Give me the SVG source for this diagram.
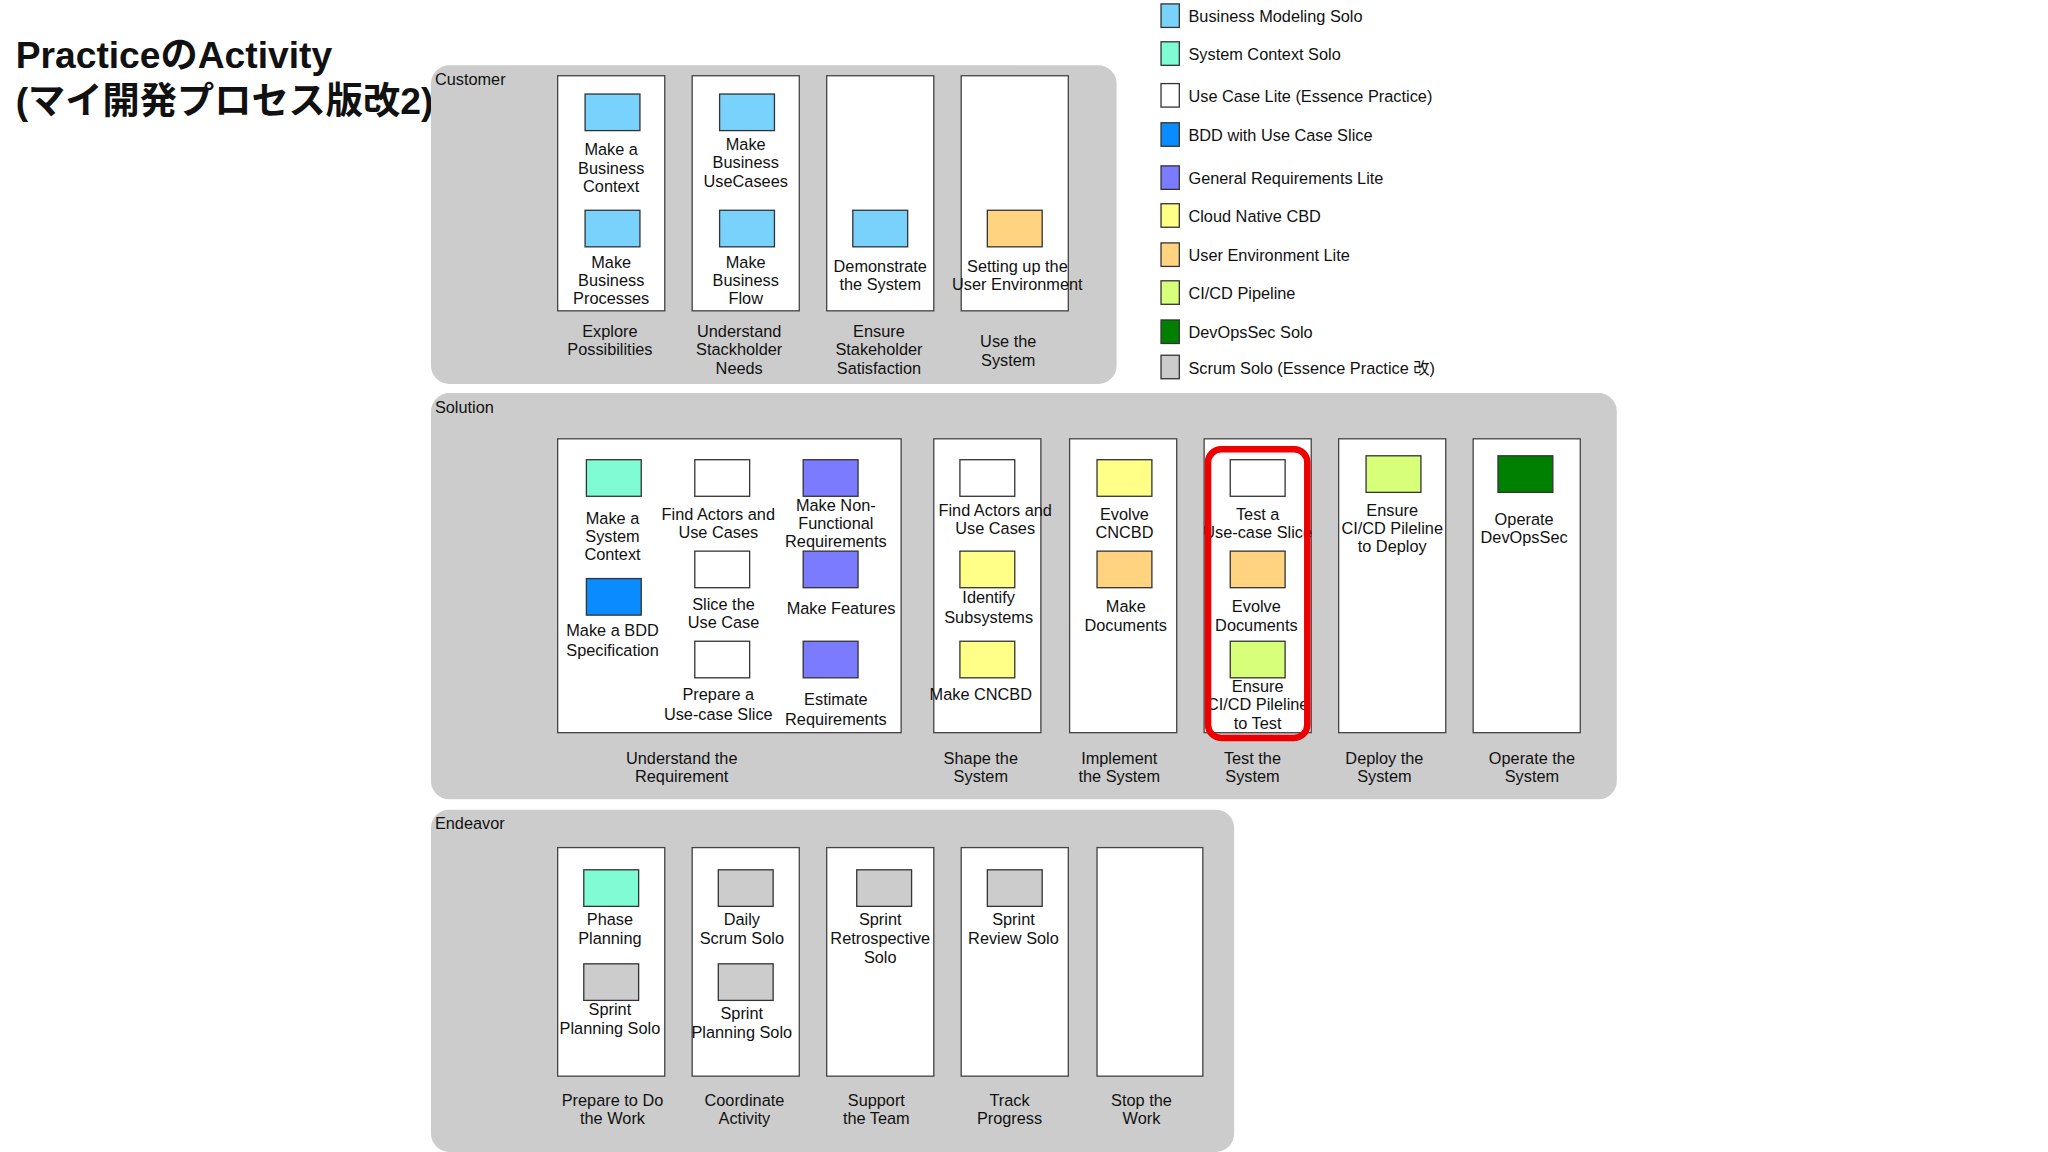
<svg xmlns="http://www.w3.org/2000/svg" width="2048" height="1152" viewBox="0 0 2048 1152">
<style>
text{font-family:"Liberation Sans",Arial,"Noto Sans CJK JP",sans-serif;font-size:12.5px;fill:#111}
.c{text-anchor:middle}
.panel{fill:#cccccc}
.col{fill:#fff;stroke:#444;stroke-width:1}
.sq{stroke:#333;stroke-width:1}
.t{font-size:28.5px;font-weight:bold}
</style>
<rect width="2048" height="1152" fill="#fff"/>
<g transform="scale(1.306)">
<g id="title"><text class="t" x="12" y="52">PracticeのActivity</text><text class="t" x="12" y="87">(マイ開発プロセス版改2)</text></g>

<g id="customer">
<rect class="panel" x="330" y="50" width="525" height="244" rx="14"/>
<text x="333" y="65">Customer</text>
<rect class="col" x="427" y="58" width="82" height="180"/>
<rect class="col" x="530" y="58" width="82" height="180"/>
<rect class="col" x="633" y="58" width="82" height="180"/>
<rect class="col" x="736" y="58" width="82" height="180"/>
<rect class="sq" x="448" y="72" width="42" height="28" fill="#79d2fb"/>
<rect class="sq" x="448" y="161" width="42" height="28" fill="#79d2fb"/>
<rect class="sq" x="551" y="72" width="42" height="28" fill="#79d2fb"/>
<rect class="sq" x="551" y="161" width="42" height="28" fill="#79d2fb"/>
<rect class="sq" x="653" y="161" width="42" height="28" fill="#79d2fb"/>
<rect class="sq" x="756" y="161" width="42" height="28" fill="#ffd37f"/>
<text class="c" x="468" y="119">Make a</text><text class="c" x="468" y="133">Business</text><text class="c" x="468" y="147">Context</text>
<text class="c" x="468" y="205">Make</text><text class="c" x="468" y="219">Business</text><text class="c" x="468" y="233">Processes</text>
<text class="c" x="571" y="115">Make</text><text class="c" x="571" y="129">Business</text><text class="c" x="571" y="143">UseCasees</text>
<text class="c" x="571" y="205">Make</text><text class="c" x="571" y="219">Business</text><text class="c" x="571" y="233">Flow</text>
<text class="c" x="674" y="208">Demonstrate</text><text class="c" x="674" y="222">the System</text>
<text class="c" x="779" y="208">Setting up  the</text><text class="c" x="779" y="222">User Environment</text>
<text class="c" x="467" y="258">Explore</text><text class="c" x="467" y="272">Possibilities</text>
<text class="c" x="566" y="258">Understand</text><text class="c" x="566" y="272">Stackholder</text><text class="c" x="566" y="286">Needs</text>
<text class="c" x="673" y="258">Ensure</text><text class="c" x="673" y="272">Stakeholder</text><text class="c" x="673" y="286">Satisfaction</text>
<text class="c" x="772" y="266">Use the</text><text class="c" x="772" y="280">System</text>
</g>

<g id="solution">
<rect class="panel" x="330" y="301" width="908" height="311" rx="14"/>
<text x="333" y="316">Solution</text>
<rect class="col" x="427" y="336" width="263" height="225"/>
<rect class="col" x="715" y="336" width="82" height="225"/>
<rect class="col" x="819" y="336" width="82" height="225"/>
<rect class="col" x="922" y="336" width="82" height="225"/>
<rect class="col" x="1025" y="336" width="82" height="225"/>
<rect class="col" x="1128" y="336" width="82" height="225"/>
<rect class="sq" x="449" y="352" width="42" height="28" fill="#7ffcd4"/>
<rect class="sq" x="449" y="443" width="42" height="28" fill="#0a8cff"/>
<rect class="sq" x="532" y="352" width="42" height="28" fill="#fff"/>
<rect class="sq" x="532" y="422" width="42" height="28" fill="#fff"/>
<rect class="sq" x="532" y="491" width="42" height="28" fill="#fff"/>
<rect class="sq" x="615" y="352" width="42" height="28" fill="#7b7bff"/>
<rect class="sq" x="615" y="422" width="42" height="28" fill="#7b7bff"/>
<rect class="sq" x="615" y="491" width="42" height="28" fill="#7b7bff"/>
<text class="c" x="469" y="401">Make a</text><text class="c" x="469" y="415">System</text><text class="c" x="469" y="429">Context</text>
<text class="c" x="469" y="487">Make a BDD</text><text class="c" x="469" y="502">Specification</text>
<text class="c" x="550" y="398">Find Actors and</text><text class="c" x="550" y="412">Use Cases</text>
<text class="c" x="554" y="467">Slice the</text><text class="c" x="554" y="481">Use Case</text>
<text class="c" x="550" y="536">Prepare a</text><text class="c" x="550" y="551">Use-case Slice</text>
<text class="c" x="640" y="391">Make Non-</text><text class="c" x="640" y="405">Functional</text><text class="c" x="640" y="419">Requirements</text>
<text class="c" x="644" y="470">Make  Features</text>
<text class="c" x="640" y="540">Estimate</text><text class="c" x="640" y="555">Requirements</text>

<rect class="sq" x="735" y="352" width="42" height="28" fill="#fff"/>
<rect class="sq" x="735" y="422" width="42" height="28" fill="#ffff88"/>
<rect class="sq" x="735" y="491" width="42" height="28" fill="#ffff88"/>
<text class="c" x="762" y="395">Find Actors and</text><text class="c" x="762" y="409">Use Cases</text>
<text class="c" x="757" y="462">Identify</text><text class="c" x="757" y="477">Subsystems</text>
<text class="c" x="751" y="536">Make CNCBD</text>

<rect class="sq" x="840" y="352" width="42" height="28" fill="#ffff88"/>
<rect class="sq" x="840" y="422" width="42" height="28" fill="#ffd37f"/>
<text class="c" x="861" y="398">Evolve</text><text class="c" x="861" y="412">CNCBD</text>
<text class="c" x="862" y="469">Make</text><text class="c" x="862" y="483">Documents</text>

<rect class="sq" x="942" y="352" width="42" height="28" fill="#fff"/>
<rect class="sq" x="942" y="422" width="42" height="28" fill="#ffd37f"/>
<rect class="sq" x="942" y="491" width="42" height="28" fill="#d7ff7a"/>
<text class="c" x="963" y="398">Test a</text><text class="c" x="963" y="412">Use-case Slice</text>
<text class="c" x="962" y="469">Evolve</text><text class="c" x="962" y="483">Documents</text>
<text class="c" x="963" y="530">Ensure</text><text class="c" x="963" y="544">CI/CD Pileline</text><text class="c" x="963" y="558">to Test</text>
<rect x="925" y="344" width="76" height="221" rx="10" fill="none" stroke="#ee0000" stroke-width="5"/>

<rect class="sq" x="1046" y="349" width="42" height="28" fill="#d7ff7a"/>
<text class="c" x="1066" y="395">Ensure</text><text class="c" x="1066" y="409">CI/CD Pileline</text><text class="c" x="1066" y="423">to Deploy</text>
<rect class="sq" x="1147" y="349" width="42" height="28" fill="#008000"/>
<text class="c" x="1167" y="402">Operate</text><text class="c" x="1167" y="416">DevOpsSec</text>

<text class="c" x="522" y="585">Understand the</text><text class="c" x="522" y="599">Requirement</text>
<text class="c" x="751" y="585">Shape the</text><text class="c" x="751" y="599">System</text>
<text class="c" x="857" y="585">Implement</text><text class="c" x="857" y="599">the System</text>
<text class="c" x="959" y="585">Test the</text><text class="c" x="959" y="599">System</text>
<text class="c" x="1060" y="585">Deploy the</text><text class="c" x="1060" y="599">System</text>
<text class="c" x="1173" y="585">Operate the</text><text class="c" x="1173" y="599">System</text>
</g>

<g id="endeavor">
<rect class="panel" x="330" y="620" width="615" height="262" rx="14"/>
<text x="333" y="635">Endeavor</text>
<rect class="col" x="427" y="649" width="82" height="175"/>
<rect class="col" x="530" y="649" width="82" height="175"/>
<rect class="col" x="633" y="649" width="82" height="175"/>
<rect class="col" x="736" y="649" width="82" height="175"/>
<rect class="col" x="840" y="649" width="81" height="175"/>
<rect class="sq" x="447" y="666" width="42" height="28" fill="#7ffcd4"/>
<rect class="sq" x="447" y="738" width="42" height="28" fill="#cccccc"/>
<rect class="sq" x="550" y="666" width="42" height="28" fill="#cccccc"/>
<rect class="sq" x="550" y="738" width="42" height="28" fill="#cccccc"/>
<rect class="sq" x="656" y="666" width="42" height="28" fill="#cccccc"/>
<rect class="sq" x="756" y="666" width="42" height="28" fill="#cccccc"/>
<text class="c" x="467" y="708">Phase</text><text class="c" x="467" y="723">Planning</text>
<text class="c" x="467" y="777">Sprint</text><text class="c" x="467" y="792">Planning Solo</text>
<text class="c" x="568" y="708">Daily</text><text class="c" x="568" y="723">Scrum Solo</text>
<text class="c" x="568" y="780">Sprint</text><text class="c" x="568" y="795">Planning Solo</text>
<text class="c" x="674" y="708">Sprint</text><text class="c" x="674" y="723">Retrospective</text><text class="c" x="674" y="737">Solo</text>
<text class="c" x="776" y="708">Sprint</text><text class="c" x="776" y="723">Review Solo</text>
<text class="c" x="469" y="847">Prepare to Do</text><text class="c" x="469" y="861">the Work</text>
<text class="c" x="570" y="847">Coordinate</text><text class="c" x="570" y="861">Activity</text>
<text class="c" x="671" y="847">Support</text><text class="c" x="671" y="861">the Team</text>
<text class="c" x="773" y="847">Track</text><text class="c" x="773" y="861">Progress</text>
<text class="c" x="874" y="847">Stop the</text><text class="c" x="874" y="861">Work</text>
</g>

<g id="legend">
<rect class="sq" x="889" y="3" width="14" height="18" fill="#79d2fb"/><text x="910" y="17">Business Modeling Solo</text>
<rect class="sq" x="889" y="32" width="14" height="18" fill="#7ffcd4"/><text x="910" y="46">System Context Solo</text>
<rect class="sq" x="889" y="64" width="14" height="18" fill="#fff"/><text x="910" y="78">Use Case Lite (Essence Practice)</text>
<rect class="sq" x="889" y="94" width="14" height="18" fill="#0a8cff"/><text x="910" y="108">BDD with Use Case Slice</text>
<rect class="sq" x="889" y="127" width="14" height="18" fill="#7b7bff"/><text x="910" y="141">General Requirements Lite</text>
<rect class="sq" x="889" y="156" width="14" height="18" fill="#ffff88"/><text x="910" y="170">Cloud Native CBD</text>
<rect class="sq" x="889" y="186" width="14" height="18" fill="#ffd37f"/><text x="910" y="200">User Environment Lite</text>
<rect class="sq" x="889" y="215" width="14" height="18" fill="#d7ff7a"/><text x="910" y="229">CI/CD Pipeline</text>
<rect class="sq" x="889" y="245" width="14" height="18" fill="#008000"/><text x="910" y="259">DevOpsSec Solo</text>
<rect class="sq" x="889" y="272" width="14" height="18" fill="#cccccc"/><text x="910" y="286">Scrum Solo (Essence Practice 改)</text>
</g>
</g>
<g id="connectors"/>
</svg>
